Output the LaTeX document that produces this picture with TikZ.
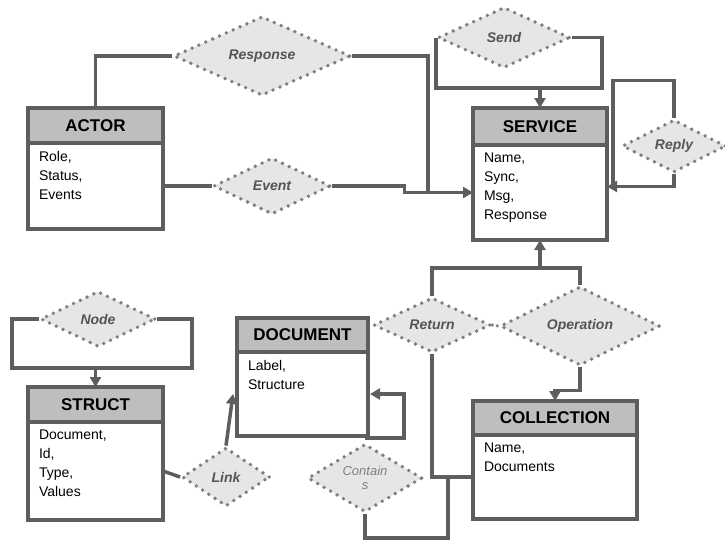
\documentclass[tikz,border=0pt]{standalone}
\usepackage{fontspec}
\setmainfont{Liberation Sans}
\usetikzlibrary{shapes.geometric,positioning,arrows.meta}
\definecolor{linec}{HTML}{5E5E5E}
\definecolor{headc}{HTML}{BEBEBE}
\definecolor{relfill}{HTML}{E6E6E6}
\definecolor{dotc}{HTML}{7E7E7E}
\definecolor{relt}{HTML}{555555}
\newcommand{\fields}[3]{\parbox[t][#1][t]{#2}{#3}}

\begin{document}
\begin{tikzpicture}[x=1pt, y=-1pt, node distance=0pt, line width=3.5pt, >={Triangle[length=10pt,width=11pt]},
	ent/.style = {draw=linec, fill=headc, outer sep=0pt, minimum height=35pt, inner sep=0pt, font=\bfseries\fontsize{17}{20}\selectfont},
	body/.style = {draw=linec, fill=white, outer sep=0pt, inner xsep=11pt, inner ysep=8pt, font=\fontsize{14}{19}\selectfont},
	rel/.style = {diamond, draw=dotc, fill=relfill, line width=3.8pt, dash pattern=on 0pt off 7.5pt, line cap=round, inner sep=0pt, text=relt, font=\bfseries\itshape\fontsize{14}{16}\selectfont},
	conn/.style = {draw=linec}]
		\useasboundingbox (0,0) rectangle (725,542);

		\node[ent, minimum width=135pt] (actor) at (95.5,125.5) {ACTOR};
		\node[body, below=of actor] (actorbody) {\fields{70pt}{113pt}{Role,\\Status,\\Events}};
		\node[ent, minimum width=134pt, minimum height=37pt] (service) at (540,126.5) {SERVICE};
		\node[body, below=of service] (servicebody) {\fields{79pt}{112pt}{Name,\\Sync,\\Msg,\\Response}};
		\node[ent, minimum width=135pt] (struct) at (95.5,404.5) {STRUCT};
		\node[body, below=of struct] (structbody) {\fields{82pt}{113pt}{Document,\\Id,\\Type,\\Values}};
		\node[ent, minimum width=131pt, minimum height=34pt] (document) at (302.5,335) {DOCUMENT};
		\node[body, below=of document] (docbody) {\fields{68pt}{109pt}{Label,\\Structure}};
		\node[ent, minimum width=164pt, minimum height=34pt] (collection) at (555,418) {COLLECTION};
		\node[body, below=of collection] (collbody) {\fields{68pt}{142pt}{Name,\\Documents}};

		\node[rel, minimum width=177pt, minimum height=58pt] (response) at (262,56) {Response};
		\node[rel, minimum width=117pt, minimum height=57pt] (event) at (272,186) {Event};
		\node[rel, minimum width=132pt, minimum height=61pt] (send) at (504,37.5) {Send};
		\node[rel, minimum width=104pt, minimum height=53pt] (reply) at (674,146) {Reply};
		\node[rel, minimum width=117pt, minimum height=55pt] (return) at (432,325) {Return};
		\node[rel, minimum width=160pt, minimum height=57pt] (operation) at (580,326) {Operation};
		\node[rel, minimum width=115pt, minimum height=56pt] (noderel) at (98,319) {Node};
		\node[rel, minimum width=88pt, minimum height=59pt] (link) at (226,477) {Link};
		\node[rel, minimum width=115pt, minimum height=61pt, align=center, text=relt!75, font=\itshape\fontsize{13}{14}\selectfont] (contains) at (365,478) {Contain\\s};

		\coordinate (sendr) at (602,88);
		\coordinate (nodel) at (12,368);
		\coordinate (noder) at (192,368);
		\coordinate (upjoin) at (540,268);
		\coordinate (contj) at (448,538);

		\draw[conn] (actor.north) |- (response.west);
		\draw[conn] (response.east) -| ([xshift=-45pt]servicebody.west);
		\draw[conn] (actorbody.east) -- (event.west);
		\draw[conn,->] (event.east) -- ++(72,0) |- (servicebody.west);
		\draw[conn] (send.west) |- (sendr) |- (send.east);
		\draw[conn,->] (service.north |- sendr) -- (service.north);
		\draw[conn,->] (reply.south) |- ([yshift=6pt]servicebody.east);
		\draw[conn] (reply.north) -- ++(0,-37) -| ([xshift=6pt,yshift=6pt]servicebody.east);
		\draw[conn] (noderel.west) -| (nodel) -- (noder) |- (noderel.east);
		\draw[conn,->] (struct.north |- nodel) -- (struct.north);
		\draw[conn] (structbody.east) -- (link.west);
		\draw[conn,->] (link.north) -- ([xshift=-4pt]docbody.west);
		\draw[conn] (return.north) |- (upjoin) -| (operation.north);
		\draw[conn,->] (upjoin) -- (servicebody.south);
		\draw[draw=dotc, line width=3.5pt, dash pattern=on 0pt off 5pt, line cap=round] (return.east) -- (operation.west);
		\draw[conn,->] (operation.south) -- ++(0,23) -| (collection.north);
		\draw[conn] (return.south) |- (collbody.west);
		\draw[conn] (contains.south) |- (contj) -- (contj |- collbody.west);
		\draw[conn,->] ([yshift=4pt]contains.north) -- ++(39,0) |- ([xshift=2pt]docbody.east);
\end{tikzpicture}
\end{document}
